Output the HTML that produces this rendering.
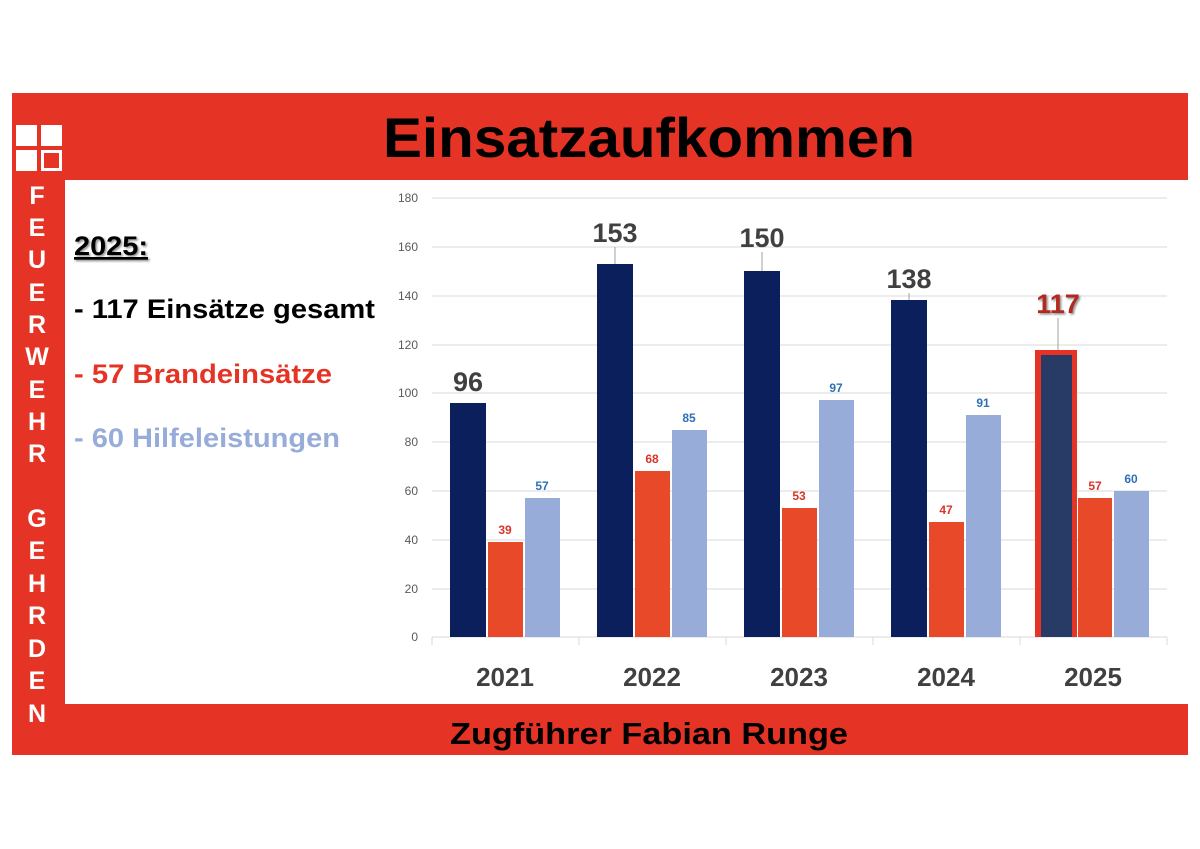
<!DOCTYPE html>
<html><head><meta charset="utf-8"><style>
html,body{margin:0;padding:0;background:#fff}
svg{display:block}
text{font-family:"Liberation Sans",Arial,sans-serif}
</style></head><body>
<svg width="1200" height="849" viewBox="0 0 1200 849" xmlns="http://www.w3.org/2000/svg">
<defs>
<filter id="sh" x="-20%" y="-20%" width="140%" height="140%"><feDropShadow dx="1.5" dy="1.5" stdDeviation="1" flood-color="#000" flood-opacity="0.45"/></filter>
</defs>
<rect x="0" y="0" width="1200" height="849" fill="#fff"/>
<rect x="12" y="93" width="1176" height="662" fill="#e53425"/>
<rect x="65" y="180" width="1123" height="524" fill="#fff"/>
<rect x="16" y="125" width="21" height="21" fill="#fff"/>
<rect x="41" y="125" width="21" height="21" fill="#fff"/>
<rect x="16" y="150" width="21" height="21" fill="#fff"/>
<rect x="42.5" y="151.5" width="18" height="18" fill="none" stroke="#fff" stroke-width="3"/>
<text x="383" y="157" textLength="532" lengthAdjust="spacingAndGlyphs" font-size="56" font-weight="bold" fill="#000">Einsatzaufkommen</text>
<text x="450" y="744" textLength="398" lengthAdjust="spacingAndGlyphs" font-size="31" font-weight="bold" fill="#000">Zugführer Fabian Runge</text>
<g font-size="25" font-weight="bold" fill="#fff" text-anchor="middle">
<text x="37" y="204">F</text><text x="37" y="236">E</text><text x="37" y="268">U</text><text x="37" y="301">E</text><text x="37" y="333">R</text><text x="37" y="365">W</text><text x="37" y="398">E</text><text x="37" y="430">H</text><text x="37" y="462">R</text>
<text x="37" y="527">G</text><text x="37" y="559">E</text><text x="37" y="592">H</text><text x="37" y="624">R</text><text x="37" y="657">D</text><text x="37" y="689">E</text><text x="37" y="722">N</text>
</g>
<text x="74" y="255" textLength="74" lengthAdjust="spacingAndGlyphs" font-size="27" font-weight="bold" fill="#000" text-decoration="underline" filter="url(#sh)">2025:</text>
<text x="74" y="318" textLength="301" lengthAdjust="spacingAndGlyphs" font-size="27" font-weight="bold" fill="#000">- 117 Einsätze gesamt</text>
<text x="74" y="383" textLength="258" lengthAdjust="spacingAndGlyphs" font-size="27" font-weight="bold" fill="#e53425">- 57 Brandeinsätze</text>
<text x="74" y="447" textLength="266" lengthAdjust="spacingAndGlyphs" font-size="27" font-weight="bold" fill="#97acd9">- 60 Hilfeleistungen</text>
<g stroke="#d9d9d9" stroke-width="1">
<line x1="432" y1="198" x2="1167" y2="198"/><line x1="432" y1="247" x2="1167" y2="247"/><line x1="432" y1="296" x2="1167" y2="296"/><line x1="432" y1="345" x2="1167" y2="345"/><line x1="432" y1="393" x2="1167" y2="393"/><line x1="432" y1="442" x2="1167" y2="442"/><line x1="432" y1="491" x2="1167" y2="491"/><line x1="432" y1="540" x2="1167" y2="540"/><line x1="432" y1="589" x2="1167" y2="589"/><line x1="432" y1="637" x2="1167" y2="637"/>
<line x1="432" y1="637" x2="432" y2="645"/><line x1="579" y1="637" x2="579" y2="645"/><line x1="726" y1="637" x2="726" y2="645"/><line x1="873" y1="637" x2="873" y2="645"/><line x1="1020" y1="637" x2="1020" y2="645"/><line x1="1167" y1="637" x2="1167" y2="645"/>
</g>
<g font-size="12" fill="#595959" text-anchor="end">
<text x="418" y="202">180</text><text x="418" y="251">160</text><text x="418" y="300">140</text><text x="418" y="349">120</text><text x="418" y="397">100</text><text x="418" y="446">80</text><text x="418" y="495">60</text><text x="418" y="544">40</text><text x="418" y="593">20</text><text x="418" y="641">0</text>
</g>
<g fill="#0b1f5c">
<rect x="450" y="403" width="36" height="234"/>
<rect x="597" y="264" width="36" height="373"/>
<rect x="744" y="271" width="36" height="366"/>
<rect x="891" y="300" width="36" height="337"/>
</g>
<rect x="1035" y="350" width="42" height="287" fill="#e53425"/>
<rect x="1041" y="355" width="31" height="282" fill="#283a66"/>
<g fill="#e84a29">
<rect x="488" y="542" width="35" height="95"/>
<rect x="635" y="471" width="35" height="166"/>
<rect x="782" y="508" width="35" height="129"/>
<rect x="929" y="522" width="35" height="115"/>
<rect x="1078" y="498" width="34" height="139"/>
</g>
<g fill="#97acd9">
<rect x="525" y="498" width="35" height="139"/>
<rect x="672" y="430" width="35" height="207"/>
<rect x="819" y="400" width="35" height="237"/>
<rect x="966" y="415" width="35" height="222"/>
<rect x="1114" y="491" width="35" height="146"/>
</g>
<g stroke="#a0a0a0" stroke-width="1">
<line x1="615" y1="247" x2="615" y2="264"/><line x1="762" y1="252" x2="762" y2="271"/><line x1="909" y1="293" x2="909" y2="300"/><line x1="1058" y1="318" x2="1058" y2="350"/>
</g>
<g font-size="27" font-weight="bold" fill="#404040" text-anchor="middle">
<text x="468" y="391">96</text><text x="615" y="242">153</text><text x="762" y="247">150</text><text x="909" y="288">138</text>
</g>
<text x="1058" y="313" text-anchor="middle" font-size="27" font-weight="bold" fill="#b02a22" filter="url(#sh)">117</text>
<g font-size="12" font-weight="bold" fill="#d9342b" text-anchor="middle">
<text x="505" y="534">39</text><text x="652" y="463">68</text><text x="799" y="500">53</text><text x="946" y="514">47</text><text x="1095" y="490">57</text>
</g>
<g font-size="12" font-weight="bold" fill="#2e6fb5" text-anchor="middle">
<text x="542" y="490">57</text><text x="689" y="422">85</text><text x="836" y="392">97</text><text x="983" y="407">91</text><text x="1131" y="483">60</text>
</g>
<g font-size="26" font-weight="bold" fill="#404040" text-anchor="middle">
<text x="505" y="686">2021</text><text x="652" y="686">2022</text><text x="799" y="686">2023</text><text x="946" y="686">2024</text><text x="1093" y="686">2025</text>
</g>
</svg>
</body></html>
